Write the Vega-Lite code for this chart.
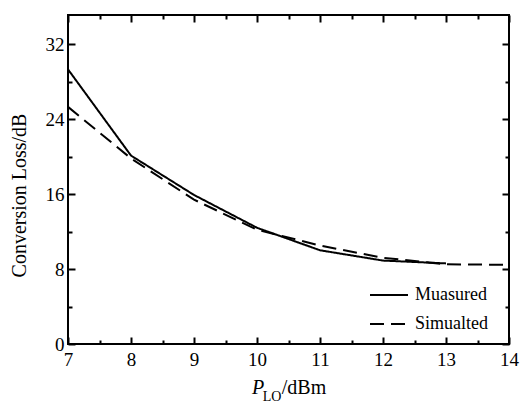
{
  "$schema": "https://vega.github.io/schema/vega-lite/v6.json",
  "width": 441,
  "height": 329,
  "autosize": {"type": "none"},
  "padding": {"left": 68, "top": 15, "right": 11, "bottom": 59},
  "background": "white",
  "config": {
    "view": {"stroke": "black", "strokeWidth": 2},
    "mark": {"color": "black"},
    "axis": {
      "domain": false,
      "grid": false,
      "tickColor": "black",
      "tickWidth": 2,
      "labelColor": "black",
      "labelFont": "Liberation Serif, Times New Roman, serif",
      "labelFontSize": 19,
      "titleFont": "Liberation Serif, Times New Roman, serif",
      "titleFontSize": 20,
      "titleFontWeight": "normal",
      "titleColor": "black"
    },
    "legend": {
      "symbolType": "stroke",
      "symbolSize": 1444,
      "symbolStrokeWidth": 2,
      "symbolStrokeColor": "black",
      "labelFont": "Liberation Serif, Times New Roman, serif",
      "labelFontSize": 18,
      "labelColor": "black",
      "labelOffset": 6,
      "rowPadding": -10,
      "padding": 0
    }
  },
  "data": {
    "values": [
      {"x": 7, "y": 29.3, "series": "Muasured"},
      {"x": 8, "y": 20.1, "series": "Muasured"},
      {"x": 9, "y": 15.9, "series": "Muasured"},
      {"x": 10, "y": 12.4, "series": "Muasured"},
      {"x": 11, "y": 10.0, "series": "Muasured"},
      {"x": 12, "y": 8.9, "series": "Muasured"},
      {"x": 13, "y": 8.6, "series": "Muasured"},
      {"x": 7, "y": 25.3, "series": "Simualted"},
      {"x": 8, "y": 19.8, "series": "Simualted"},
      {"x": 9, "y": 15.4, "series": "Simualted"},
      {"x": 10, "y": 12.2, "series": "Simualted"},
      {"x": 11, "y": 10.5, "series": "Simualted"},
      {"x": 12, "y": 9.2, "series": "Simualted"},
      {"x": 13, "y": 8.5, "series": "Simualted"},
      {"x": 14, "y": 8.45, "series": "Simualted"}
    ]
  },
  "resolve": {"axis": {"x": "independent", "y": "independent"}},
  "layer": [
    {
      "mark": {"type": "line", "strokeWidth": 2, "clip": true},
      "encoding": {
        "x": {
          "field": "x", "type": "quantitative",
          "scale": {"domain": [7, 14], "nice": false, "zero": false},
          "axis": {
            "orient": "bottom", "values": [7, 8, 9, 10, 11, 12, 13, 14],
            "tickSize": -7, "labelPadding": 13, "labelFlush": false,
            "title": "P", "titleFontStyle": "italic",
            "titleX": 189.5, "titleY": 49, "titleBaseline": "alphabetic", "titleAlign": "center"
          }
        },
        "y": {
          "field": "y", "type": "quantitative",
          "scale": {"domain": [0, 35.1], "nice": false, "zero": false},
          "axis": {
            "orient": "left", "values": [0, 8, 16, 24, 32],
            "tickSize": -7, "labelPadding": 11, "labelFlush": false,
            "title": "Conversion Loss/dB",
            "titleX": -49, "titleY": 180, "titleAngle": -90,
            "titleBaseline": "middle", "titleAlign": "center"
          }
        },
        "strokeDash": {
          "field": "series", "type": "nominal",
          "scale": {"domain": ["Muasured", "Simualted"], "range": [[1, 0], [14, 7]]},
          "legend": {"title": null, "orient": "none", "legendX": 301, "legendY": 260}
        }
      }
    },
    {
      "mark": {"type": "point", "opacity": 0},
      "encoding": {
        "x": {
          "field": "x", "type": "quantitative",
          "scale": {"domain": [7, 14], "nice": false, "zero": false},
          "axis": {
            "orient": "bottom", "values": [7.5, 8.5, 9.5, 10.5, 11.5, 12.5, 13.5],
            "tickSize": -4, "labels": false,
            "title": "LO", "titleFontSize": 14,
            "titleX": 203.5, "titleY": 56, "titleBaseline": "alphabetic", "titleAlign": "center"
          }
        },
        "y": {
          "field": "y", "type": "quantitative",
          "scale": {"domain": [0, 35.1], "nice": false, "zero": false},
          "axis": {"orient": "left", "values": [4, 12, 20, 28], "tickSize": -4, "labels": false, "title": null}
        }
      }
    },
    {
      "mark": {"type": "point", "opacity": 0},
      "encoding": {
        "x": {
          "field": "x", "type": "quantitative",
          "scale": {"domain": [7, 14], "nice": false, "zero": false},
          "axis": {"orient": "top", "values": [7, 8, 9, 10, 11, 12, 13, 14], "tickSize": -7, "labels": false, "title": null}
        },
        "y": {
          "field": "y", "type": "quantitative",
          "scale": {"domain": [0, 35.1], "nice": false, "zero": false},
          "axis": {"orient": "right", "values": [0, 8, 16, 24, 32], "tickSize": -7, "labels": false, "title": null}
        }
      }
    },
    {
      "mark": {"type": "point", "opacity": 0},
      "encoding": {
        "x": {
          "field": "x", "type": "quantitative",
          "scale": {"domain": [7, 14], "nice": false, "zero": false},
          "axis": {"orient": "top", "values": [7.5, 8.5, 9.5, 10.5, 11.5, 12.5, 13.5], "tickSize": -4, "labels": false, "title": null}
        },
        "y": {
          "field": "y", "type": "quantitative",
          "scale": {"domain": [0, 35.1], "nice": false, "zero": false},
          "axis": {"orient": "right", "values": [4, 12, 20, 28], "tickSize": -4, "labels": false, "title": null}
        }
      }
    },
    {
      "mark": {"type": "point", "opacity": 0},
      "encoding": {
        "x": {
          "field": "x", "type": "quantitative",
          "scale": {"domain": [7, 14], "nice": false, "zero": false},
          "axis": {
            "orient": "bottom", "ticks": false, "labels": false, "values": [],
            "title": "/dBm",
            "titleX": 235.5, "titleY": 49, "titleBaseline": "alphabetic", "titleAlign": "center"
          }
        }
      }
    }
  ]
}
